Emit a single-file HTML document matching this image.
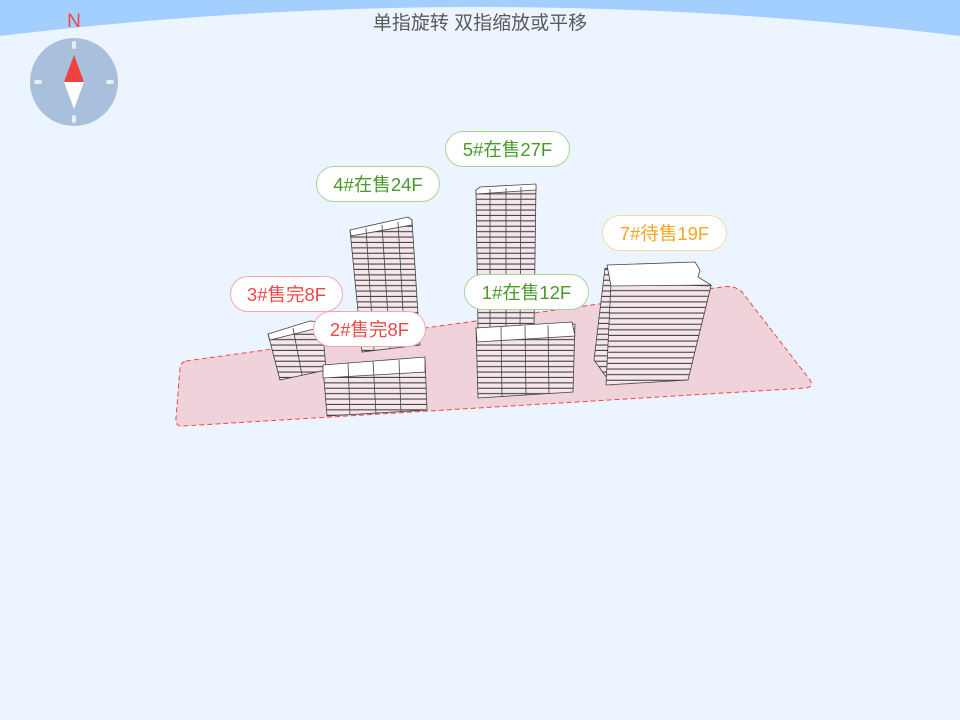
<!DOCTYPE html>
<html><head><meta charset="utf-8"><style>
html,body{margin:0;padding:0;background:#ecf5ff;}
body{width:960px;height:720px;overflow:hidden;position:relative;font-family:"Liberation Sans","Noto Sans CJK SC",sans-serif;}
.t{position:absolute;top:8px;left:0;width:960px;text-align:center;font-size:19px;color:#5a5a5a;}
.lb{position:absolute;height:36px;line-height:36px;border-radius:18px;background:#fff;font-size:18.5px;text-align:center;box-sizing:border-box;}
.g{color:#4a9a2a;border:1px solid #a8d49a;}
.r{color:#f04848;border:1px solid #f4a8b0;}
.o{color:#f5a623;border:1px solid #f8d8a0;}
</style></head><body>
<svg width="960" height="720" style="position:absolute;left:0;top:0">
<defs>
<pattern id="fl" patternUnits="userSpaceOnUse" width="10" height="5.4">
<rect width="10" height="5.4" fill="#f4e6ea"/><rect y="4.3" width="10" height="1.1" fill="#444"/>
</pattern>
<pattern id="fl2" patternUnits="userSpaceOnUse" width="10" height="5.6">
<rect width="10" height="5.6" fill="#f4e6ea"/><rect y="4.5" width="10" height="1.1" fill="#444"/>
</pattern>
</defs>
<path d="M0,0 H960 V36 Q480,-22 0,36 Z" fill="#a3cfff"/>
<path d="M186,361 L722,287 Q735,285 742,292 L810,380 Q814,387 806,388 L183,426 Q175,427 176,418 L180,368 Q181,362 186,361 Z" fill="#f0d2da" stroke="#f04848" stroke-width="1" stroke-dasharray="5,3"/>
<circle cx="74" cy="82" r="44" fill="#a9c0dc"/>
<g stroke="#e8eef6" stroke-width="4" stroke-linecap="round">
<line x1="74" y1="43" x2="74" y2="47"/><line x1="74" y1="117" x2="74" y2="121"/>
<line x1="36" y1="82" x2="40" y2="82"/><line x1="108" y1="82" x2="112" y2="82"/></g>
<polygon points="74,55 64,82 84,82" fill="#f04040"/>
<polygon points="74,109 64,82 84,82" fill="#fff"/>
<text x="74" y="27" text-anchor="middle" font-size="19" fill="#f04848" font-family="Liberation Sans">N</text>
<g stroke="#444" stroke-width="0.8">
<polygon points="476,190 536,186 534,330 478,330" fill="url(#fl)"/>
<polygon points="476,190 480,187 536,184 536,190 476,194" fill="#fff"/>
<line x1="490" y1="189" x2="490" y2="330"/><line x1="506" y1="188" x2="506" y2="330"/><line x1="521" y1="187" x2="520" y2="330"/>
<polygon points="350,230 412,220 420,345 362,352" fill="url(#fl)"/>
<polygon points="350,230 408,217 412,220 412,225 351,236" fill="#fff"/>
<line x1="366" y1="228" x2="374" y2="350"/><line x1="382" y1="225" x2="390" y2="348"/><line x1="398" y1="222" x2="405" y2="347"/>
<polygon points="268,334 322,322 326,370 280,380" fill="url(#fl)"/>
<polygon points="268,334 310,321 322,322 322,327 270,340" fill="#fff"/>
<line x1="293" y1="328" x2="302" y2="375"/>
<polygon points="323,367 425,359 427,410 327,416" fill="url(#fl)"/>
<polygon points="323,365 425,357 425,372 323,378" fill="#fff"/>
<line x1="348" y1="363" x2="350" y2="415"/><line x1="373" y1="361" x2="376" y2="414"/><line x1="399" y1="360" x2="401" y2="412"/>
<polygon points="476,328 575,324 573,392 478,398" fill="url(#fl)"/>
<polygon points="476,328 572,322 575,336 477,342" fill="#fff"/>
<line x1="501" y1="327" x2="502" y2="397"/><line x1="525" y1="326" x2="526" y2="395"/><line x1="548" y1="325" x2="549" y2="393"/>
<polygon points="605,268 612,270 612,385 594,360" fill="url(#fl)"/>
<polygon points="611,283 711,286 688,380 606,385" fill="url(#fl2)"/>
<polygon points="607,265 695,262 700,270 698,277 711,285 611,286" fill="#fff"/>
</g>
</svg>
<div class="t">单指旋转 双指缩放或平移</div>
<div class="lb g" style="left:445px;top:131px;width:125px;">5#在售27F</div>
<div class="lb g" style="left:316px;top:166px;width:124px;">4#在售24F</div>
<div class="lb o" style="left:602px;top:215px;width:125px;">7#待售19F</div>
<div class="lb r" style="left:230px;top:276px;width:113px;">3#售完8F</div>
<div class="lb g" style="left:464px;top:274px;width:125px;">1#在售12F</div>
<div class="lb r" style="left:313px;top:311px;width:113px;">2#售完8F</div>
</body></html>
